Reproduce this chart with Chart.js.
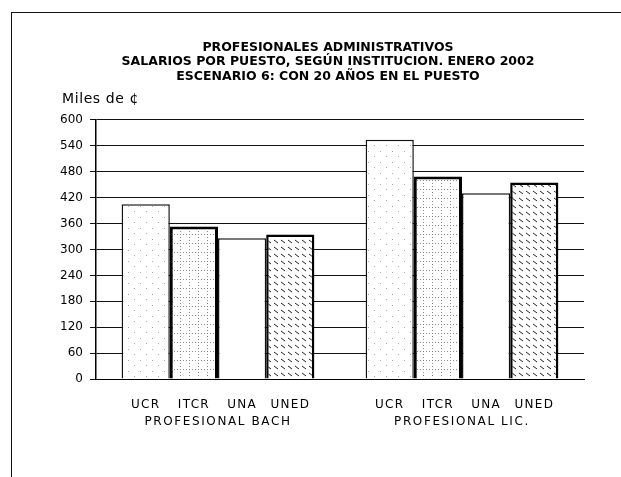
<!DOCTYPE html>
<html>
<head>
<meta charset="utf-8">
<script src="https://cdn.jsdelivr.net/npm/chart.js@4"></script>
<style>
  html, body { margin: 0; padding: 0; background: #fff; }
  #wrap { position: relative; width: 621px; height: 477px; overflow: hidden; }
  #frame { position: absolute; left: 11px; top: 12px; width: 700px; height: 600px;
           border-left: 1.5px solid #111; border-top: 1.5px solid #111; }
  canvas { position: absolute; left: 0; top: 0; }
</style>
</head>
<body>
<div id="wrap">
  <div id="frame"></div>
  <canvas id="chart" width="621" height="477"></canvas>
</div>
<script>
const groups = ['PROFESIONAL BACH', 'PROFESIONAL LIC.']
const institutions = ['UCR', 'ITCR', 'UNA', 'UNED']
const ucr = [405, 554]
const itcr = [353, 469]
const una = [326, 430]
const uned = [335, 455]
const titleLines = [
  'PROFESIONALES ADMINISTRATIVOS',
  'SALARIOS POR PUESTO, SEGÚN INSTITUCION. ENERO 2002',
  'ESCENARIO 6: CON 20 AÑOS EN EL PUESTO'
]
const unitLabel = 'Miles de ¢'

// little tiles used as bar fills
function makeTile(w, h, drawFn) {
  const c = document.createElement('canvas')
  c.width = w; c.height = h
  const g = c.getContext('2d')
  g.fillStyle = '#fff'
  g.fillRect(0, 0, w, h)
  drawFn(g)
  return document.getElementById('chart').getContext('2d').createPattern(c, 'repeat')
}

const dotsFill = makeTile(12, 11, g => {
  g.fillStyle = '#aaa'
  g.fillRect(2, 2, 1, 1)
  g.fillRect(8, 8, 1, 1)
})
const gridFill = makeTile(9, 9, g => {
  g.fillStyle = '#888'
  for (let y = 0; y < 9; y += 3) g.fillRect(0, y, 1, 1)
  for (let x = 0; x < 9; x += 3) g.fillRect(x, 0, 1, 1)
})
const hatchFill = makeTile(7, 7, g => {
  g.strokeStyle = '#222'
  g.lineWidth = 1
  g.beginPath()
  g.moveTo(1, 2)
  g.lineTo(5, 5)
  g.stroke()
})

const labelsPlugin = {
  id: 'labelsPlugin',
  afterLayout(chart) {
    // title sits a bit right of the canvas centre in the original
    if (chart.titleBlock) {
      chart.titleBlock.left += 36
      chart.titleBlock.right += 36
    }
  },
  afterDraw(chart) {
    const ctx = chart.ctx
    const area = chart.chartArea
    ctx.save()
    ctx.fillStyle = '#000'
    ctx.textAlign = 'center'
    ctx.textBaseline = 'middle'
    ctx.font = '12px "DejaVu Sans"'
    ctx.letterSpacing = '1.3px'
    chart.data.datasets.forEach((ds, i) => {
      chart.getDatasetMeta(i).data.forEach(bar => {
        ctx.fillText(ds.label, bar.x, area.bottom + 26)
      })
    })
    const xs = chart.scales.x
    ctx.letterSpacing = '1.6px'
    groups.forEach((g, i) => {
      ctx.fillText(g, xs.getPixelForTick(i), area.bottom + 43)
    })
    ctx.letterSpacing = '0.6px'
    ctx.textAlign = 'left'
    ctx.font = '14px "DejaVu Sans"'
    ctx.fillText(unitLabel, area.left - 34, area.top - 21)
    ctx.restore()
  }
}

const ctx = document.getElementById('chart').getContext('2d')
const myChart = new Chart(ctx, {
  type: 'bar',
  data: {
    labels: groups,
    datasets: [
      { label: institutions[0], data: ucr, backgroundColor: dotsFill, borderColor: '#111', borderWidth: 1.5 },
      { label: institutions[1], data: itcr, backgroundColor: gridFill, borderColor: '#000', borderWidth: 3 },
      { label: institutions[2], data: una, backgroundColor: '#fff', borderColor: '#111', borderWidth: 1.5 },
      { label: institutions[3], data: uned, backgroundColor: hatchFill, borderColor: '#000', borderWidth: 2.5 }
    ]
  },
  options: {
    responsive: false,
    animation: false,
    layout: { padding: { left: 0, right: 37, top: 0, bottom: 0 } },
    datasets: { bar: { categoryPercentage: 0.79, barPercentage: 1.0 } },
    plugins: {
      legend: { display: false },
      tooltip: { enabled: false },
      title: {
        display: true,
        text: titleLines,
        color: '#000',
        font: { family: '"DejaVu Sans"', size: 12.5, weight: 'bold', lineHeight: 1.17 },
        padding: { top: 40, bottom: 36.1 }
      }
    },
    scales: {
      x: {
        grid: { display: false },
        border: { display: true, color: '#000', width: 1 },
        ticks: { display: false },
        afterFit(scale) { scale.height = 98 }
      },
      y: {
        min: 0,
        max: 600,
        ticks: { stepSize: 60, color: '#000', padding: 7, font: { family: '"DejaVu Sans"', size: 12 } },
        grid: { color: '#111', lineWidth: 1, tickLength: 6 },
        border: { display: true, color: '#000', width: 1.5 },
        afterFit(scale) { scale.width = 96 }
      }
    }
  },
  plugins: [labelsPlugin]
})
</script>
</body>
</html>
